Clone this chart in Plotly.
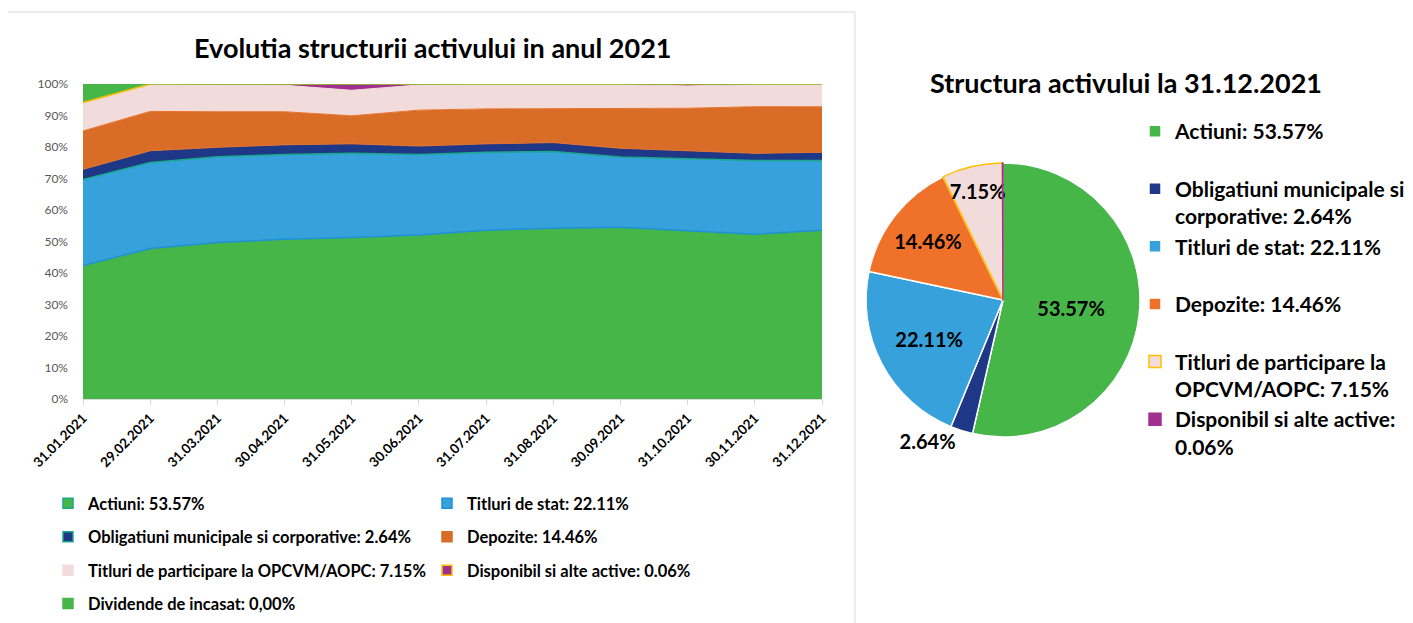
import plotly.graph_objects as go

# ---------------- data ----------------
dates = ["31.01.2021", "29.02.2021", "31.03.2021", "30.04.2021", "31.05.2021", "30.06.2021",
         "31.07.2021", "31.08.2021", "30.09.2021", "31.10.2021", "30.11.2021", "31.12.2021"]

actiuni = [42.4, 47.8, 49.7, 50.7, 51.3, 52.1, 53.6, 54.2, 54.5, 53.3, 52.3, 53.57]
titluri_stat = [27.3, 27.3, 27.2, 26.9, 26.7, 25.5, 24.7, 24.4, 22.3, 23.0, 23.4, 22.11]
obligatiuni = [3.2, 3.7, 3.0, 3.1, 3.0, 2.7, 2.7, 2.8, 2.8, 2.6, 2.3, 2.64]
depozite = [12.2, 12.5, 11.3, 10.5, 8.9, 11.4, 11.1, 10.8, 12.7, 13.4, 14.8, 14.46]
titluri_part = [8.7, 8.5, 8.5, 8.4, 8.1, 8.0, 7.7, 7.6, 7.5, 7.1, 7.0, 7.15]
disponibil = [0.3, 0.2, 0.3, 0.4, 2.0, 0.3, 0.2, 0.2, 0.2, 0.6, 0.2, 0.06]
dividende = [5.9, 0, 0, 0, 0, 0, 0, 0, 0, 0, 0, 0]

area_names = ["Actiuni: 53.57%", "Titluri de stat: 22.11%",
              "Obligatiuni municipale si corporative: 2.64%", "Depozite: 14.46%",
              "Titluri de participare la OPCVM/AOPC: 7.15%", "Disponibil si alte active: 0.06%",
              "Dividende de incasat: 0,00%"]

pie_labels = ["Actiuni: 53.57%<br> ", "Obligatiuni municipale si<br>corporative: 2.64%",
              "Titluri de stat: 22.11%<br> ", "Depozite: 14.46%<br> ",
              "Titluri de participare la<br>OPCVM/AOPC: 7.15%", "Disponibil si alte active:<br>0.06%"]
pie_values = [53.57, 2.64, 22.11, 14.46, 7.15, 0.06]

y_ticks = [0, 10, 20, 30, 40, 50, 60, 70, 80, 90, 100]
y_tick_text = [f"{v}%" for v in y_ticks]

# ---------------- layout helpers ----------------
OFF = 8                      # page body margin of the html page
W, H = 1413 - OFF, 623 - OFF


def px(x):
    return (x - OFF) / W


def py(y):
    return 1 - (y - OFF) / H


FONT = "Lato"
C_ACT = "#47B649"
C_STAT = "#37A1DB"
C_OBL = "#1F3787"
C_DEP_AREA = "#D96C26"
C_DEP_PIE = "#F0722A"
C_TP = "#F2DCDB"
C_DISP = "#A0308F"
C_YEL = "#FFC000"
C_TEAL = "#1AA88A"

series = [
    (actiuni, C_ACT, "#1E92D6", 1.5),
    (titluri_stat, C_STAT, C_TEAL, 1.5),
    (obligatiuni, C_OBL, "#E0702E", 1),
    (depozite, C_DEP_AREA, "#E8732C", 1),
    (titluri_part, C_TP, C_TP, 1),
    (disponibil, C_DISP, C_YEL, 1.5),
    (dividende, C_ACT, C_ACT, 1),
]

fig = go.Figure()
for (vals, col, lcol, lw), name in zip(series, area_names):
    fig.add_trace(go.Scatter(
        x=dates, y=vals, name=name, mode="lines", stackgroup="one",
        fillcolor=col, line=dict(color=lcol, width=lw), showlegend=False,
        xaxis="x", yaxis="y"))

# legend proxies (square markers)
leg_marker = [
    (C_ACT, C_TEAL, "legend"), (C_STAT, "#1E92D6", "legend2"),
    (C_OBL, C_TEAL, "legend"), (C_DEP_AREA, C_DEP_AREA, "legend2"),
    (C_TP, C_TP, "legend"), (C_DISP, C_YEL, "legend2"),
    (C_ACT, C_ACT, "legend"),
]
for i, ((fc, lc, lg), name) in enumerate(zip(leg_marker, area_names)):
    fig.add_trace(go.Scatter(
        x=[None], y=[None], mode="markers", name=name, legend=lg, legendgroup=f"g{i}",
        marker=dict(symbol="square", size=10, color=fc, line=dict(color=lc, width=1.5)),
        xaxis="x", yaxis="y"))

fig.add_trace(go.Pie(
    labels=pie_labels, values=pie_values, sort=False, direction="clockwise", rotation=0,
    marker=dict(colors=[C_ACT, C_OBL, C_STAT, C_DEP_PIE, C_TP, C_DISP],
                line=dict(color=["white", "white", "white", "white", C_YEL, C_DISP], width=1.5)),
    texttemplate=["%{value:.2f}%"] * 5 + [""],
    textposition=["inside", "outside", "inside", "inside", "inside", "inside"],
    insidetextorientation="horizontal",
    textfont=dict(family=FONT, size=20, color="black", weight="bold"),
    domain=dict(x=[px(866), px(1140)], y=[py(437), py(163)]),
    legend="legend3", hoverinfo="label+percent"))

leg_font = dict(family=FONT, size=16.5, color="black", weight="bold")
fig.update_layout(
    width=W, height=H, margin=dict(l=0, r=0, t=0, b=0, autoexpand=False),
    paper_bgcolor="white", plot_bgcolor="white",
    font=dict(family=FONT, color="black"),
    uniformtext=dict(minsize=20, mode="show"),
    xaxis=dict(domain=[px(83), px(822)], type="category", range=[0, 11], automargin=False,
               showgrid=False, zeroline=False, showline=True, linecolor="#D9D9D9", linewidth=1,
               ticks="outside", ticklen=5, tickcolor="#D9D9D9", tickangle=-45,
               tickfont=dict(family=FONT, size=13.5, color="black", weight="bold"), anchor="y"),
    yaxis=dict(domain=[py(399), py(84)], range=[0, 100], tickvals=y_ticks, automargin=False,
               ticktext=y_tick_text, showgrid=False, zeroline=False, showline=False,
               ticks="", ticklabelstandoff=14,
               tickfont=dict(family=FONT, size=12, color="#595959"), anchor="x"),
    legend=dict(x=px(48), y=py(486), xanchor="left", yanchor="top", traceorder="grouped",
                tracegroupgap=9, bgcolor="rgba(0,0,0,0)", font=leg_font),
    legend2=dict(x=px(427), y=py(486), xanchor="left", yanchor="top", traceorder="grouped",
                 tracegroupgap=9, bgcolor="rgba(0,0,0,0)", font=leg_font),
    legend3=dict(x=px(1135), y=py(111), xanchor="left", yanchor="top", valign="top",
                 bgcolor="rgba(0,0,0,0)",
                 font=dict(family=FONT, size=21, color="black", weight="bold")),
    annotations=[
        dict(text="<b>Evolutia structurii activului in anul 2021</b>", x=px(432), y=py(47),
             xref="paper", yref="paper", showarrow=False, xanchor="center", yanchor="middle",
             font=dict(family=FONT, size=27, color="black")),
        dict(text="<b>Structura activului la 31.12.2021</b>", x=px(1126), y=py(82),
             xref="paper", yref="paper", showarrow=False, xanchor="center", yanchor="middle",
             font=dict(family=FONT, size=27, color="black")),
    ],
    shapes=[
        dict(type="rect", xref="paper", yref="paper", x0=px(7), x1=px(855), y0=-0.02, y1=py(12),
             line=dict(color="#D9D9D9", width=1), fillcolor="rgba(0,0,0,0)", layer="below"),
    ],
)

fig.write_html("out.html")
